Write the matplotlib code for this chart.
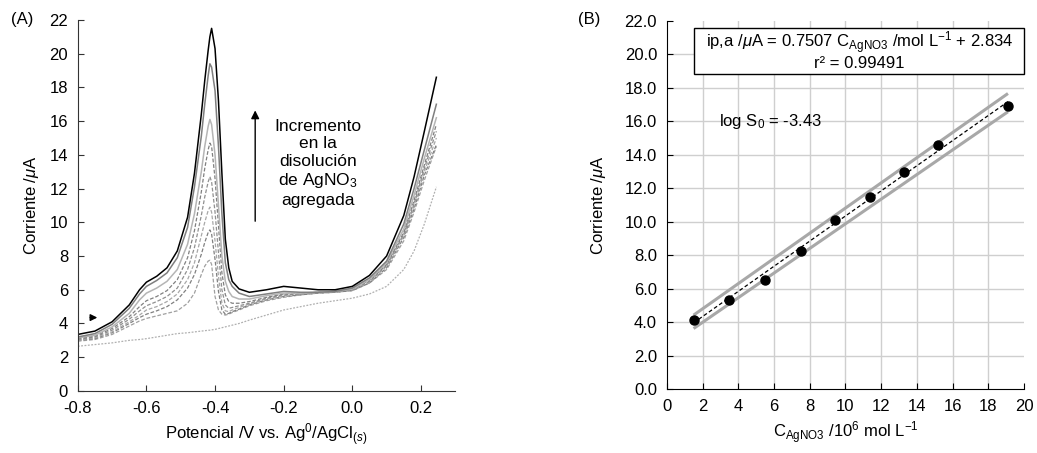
import numpy as np
import matplotlib
matplotlib.use("Agg")
import matplotlib.pyplot as plt
from matplotlib.patches import Rectangle

plt.rcParams['font.family'] = ['Liberation Sans', 'DejaVu Sans']
plt.rcParams['mathtext.fontset'] = 'custom'
plt.rcParams['mathtext.rm'] = 'Liberation Sans'
plt.rcParams['mathtext.it'] = 'Liberation Sans:italic'
plt.rcParams['mathtext.bf'] = 'Liberation Sans:bold'
plt.rcParams['axes.unicode_minus'] = False

# --- (A) voltamogramas: potencial [V] y corriente [uA]
E = [-0.80, -0.75, -0.70, -0.65, -0.62, -0.60, -0.57, -0.54, -0.51, -0.48,
     -0.46, -0.44, -0.43, -0.42, -0.415, -0.41, -0.40, -0.39, -0.38, -0.37,
     -0.36, -0.35, -0.33, -0.30, -0.25, -0.20, -0.15, -0.10, -0.05, 0.00,
     0.05, 0.10, 0.15, 0.18, 0.21, 0.245]

i1 = [3.35, 3.55, 4.1, 5.1, 6.0, 6.45, 6.8, 7.3, 8.3, 10.3,
      12.9, 16.4, 18.4, 20.2, 21.0, 21.5, 20.3, 17.2, 12.9, 9.0,
      7.3, 6.5, 6.05, 5.85, 6.0, 6.2, 6.1, 6.0, 6.0, 6.2,
      6.85, 8.0, 10.4, 12.7, 15.4, 18.6]
i2 = [3.2, 3.4, 3.95, 4.9, 5.75, 6.2, 6.55, 7.0, 7.9, 9.7,
      12.1, 15.1, 17.0, 18.7, 19.4, 19.2, 17.8, 14.5, 10.5, 7.6,
      6.6, 6.2, 5.8, 5.6, 5.75, 5.9, 5.85, 5.85, 5.9, 6.1,
      6.7, 7.7, 9.9, 12.0, 14.3, 17.0]
i3 = [3.15, 3.3, 3.8, 4.6, 5.4, 5.8, 6.1, 6.5, 7.2, 8.7,
      10.5, 13.0, 14.5, 15.7, 16.1, 15.8, 14.0, 11.0, 8.0, 6.5,
      5.9, 5.6, 5.45, 5.45, 5.65, 5.8, 5.8, 5.85, 5.9, 6.05,
      6.6, 7.6, 9.6, 11.6, 13.8, 16.2]
i4 = [3.1, 3.25, 3.7, 4.4, 5.0, 5.35, 5.6, 5.95, 6.6, 7.9,
      9.5, 11.8, 13.2, 14.3, 14.7, 14.5, 12.6, 9.8, 7.0, 5.7,
      5.3, 5.2, 5.2, 5.3, 5.55, 5.75, 5.8, 5.85, 5.9, 6.05,
      6.55, 7.5, 9.4, 11.3, 13.4, 15.8]
i5 = [3.05, 3.2, 3.6, 4.25, 4.75, 5.05, 5.3, 5.6, 6.1, 7.2,
      8.5, 10.4, 11.5, 12.4, 12.7, 12.4, 10.6, 8.2, 6.0, 5.1,
      4.9, 4.95, 5.05, 5.2, 5.5, 5.7, 5.75, 5.85, 5.9, 6.0,
      6.5, 7.45, 9.3, 11.1, 13.2, 15.4]
i6 = [3.0, 3.15, 3.5, 4.1, 4.5, 4.8, 5.0, 5.3, 5.75, 6.6,
      7.6, 9.2, 10.0, 10.7, 10.9, 10.6, 8.9, 6.8, 5.2, 4.75,
      4.7, 4.8, 4.95, 5.15, 5.45, 5.65, 5.75, 5.85, 5.9, 6.0,
      6.45, 7.4, 9.2, 11.0, 13.0, 15.0]
i7 = [3.0, 3.1, 3.45, 4.0, 4.35, 4.55, 4.75, 5.0, 5.4, 6.1,
      6.9, 8.1, 8.8, 9.4, 9.55, 9.3, 7.8, 5.9, 4.8, 4.55,
      4.6, 4.7, 4.85, 5.1, 5.4, 5.6, 5.7, 5.8, 5.85, 5.95,
      6.4, 7.3, 9.1, 10.8, 12.8, 14.6]
i8 = [2.95, 3.05, 3.35, 3.85, 4.15, 4.3, 4.45, 4.6, 4.75, 5.2,
      5.8, 6.9, 7.4, 7.7, 7.75, 7.5, 5.6, 4.8, 4.55, 4.5,
      4.55, 4.65, 4.8, 5.05, 5.35, 5.55, 5.7, 5.8, 5.85, 5.95,
      6.4, 7.2, 8.9, 10.6, 12.5, 14.5]
i_blanco = [2.65, 2.75, 2.85, 3.0, 3.05, 3.1, 3.2, 3.3, 3.4, 3.45,
            3.5, 3.55, 3.57, 3.6, 3.6, 3.62, 3.65, 3.7, 3.75, 3.8,
            3.85, 3.9, 4.0, 4.2, 4.5, 4.8, 5.0, 5.2, 5.35, 5.5,
            5.75, 6.2, 7.2, 8.3, 9.9, 12.1]

# --- (B) curva de calibración
C = [1.5, 3.5, 5.5, 7.5, 9.4, 11.4, 13.3, 15.2, 19.1]
ip = [4.1, 5.3, 6.5, 8.25, 10.1, 11.5, 13.0, 14.6, 16.9]
pendiente = 0.7507
intercepto = 2.834
banda_sup = [4.42, 17.66]
banda_inf = [3.62, 16.57]

fs = 12

fig = plt.figure(figsize=(10.37, 4.53), dpi=100)
axA = fig.add_axes([0.075, 0.137, 0.364, 0.819])
axB = fig.add_axes([0.643, 0.141, 0.3445, 0.813])

# curvas (de la más baja a la más alta)
estilos = [
    (i_blanco, '#b0b0b0', (0, (1.5, 1.2)), 0.9),
    (i8, '#a0a0a0', (0, (3, 1.5)), 0.9),
    (i7, '#808080', (0, (3, 1.5)), 0.9),
    (i6, '#a8a8a8', (0, (3, 1.5)), 0.9),
    (i5, '#909090', (0, (3, 1.5)), 0.9),
    (i4, '#808080', (0, (3, 1.5)), 0.9),
    (i3, '#b5b5b5', '-', 1.1),
    (i2, '#7f7f7f', '-', 1.1),
    (i1, 'black', '-', 1.1),
]
for datos, col, ls, lw in estilos:
    axA.plot(E, datos, color=col, linestyle=ls, lw=lw)

axA.set_xlim(-0.8, 0.3)
axA.set_ylim(0, 22)
axA.set_xticks(np.arange(-0.8, 0.21, 0.2))
axA.set_xticklabels(['-0.8', '-0.6', '-0.4', '-0.2', '0.0', '0.2'])
axA.set_yticks(np.arange(0, 23, 2))
axA.spines['top'].set_visible(False)
axA.spines['right'].set_visible(False)
for s in ['left', 'bottom']:
    axA.spines[s].set_color('#333333')
axA.tick_params(direction='in', length=4, labelsize=fs, color='#333333', pad=7)
axA.set_xlabel('Potencial /V vs. Ag$^{0}$/AgCl$_{(s)}$', fontsize=fs, labelpad=4)
axA.set_ylabel(r'Corriente /$\mu$A', fontsize=fs, labelpad=6)

axA.annotate('', xy=(-0.283, 16.8), xytext=(-0.283, 9.9),
             arrowprops=dict(arrowstyle='-|>', color='black', lw=1, mutation_scale=12))
axA.annotate('', xy=(-0.735, 4.35), xytext=(-0.772, 4.35),
             arrowprops=dict(arrowstyle='-|>', color='black', lw=1, mutation_scale=10))
axA.text(-0.10, 13.5, 'Incremento\nen la\ndisolución\nde AgNO$_3$\nagregada',
         ha='center', va='center', fontsize=12.5, linespacing=1.2)

fig.text(0.021, 0.957, '(A)', ha='center', va='center', fontsize=fs)
fig.text(0.568, 0.957, '(B)', ha='center', va='center', fontsize=fs)

# (B)
axB.set_xlim(0, 20)
axB.set_ylim(0, 22)
axB.set_xticks(np.arange(0, 21, 2))
axB.set_yticks(np.arange(0, 23, 2))
axB.set_yticklabels(['%.1f' % v for v in np.arange(0, 23, 2)])
axB.grid(True, color='#cfcfcf', lw=1)
axB.set_axisbelow(True)
xg = axB.get_xgridlines()
xg[-1].set_visible(False)
xg[0].set_visible(False)
yg = axB.get_ygridlines()
yg[-1].set_visible(False)
yg[0].set_visible(False)
axB.spines['top'].set_visible(False)
axB.spines['right'].set_visible(False)
axB.tick_params(direction='in', length=4, labelsize=fs, pad=7)

xs = np.array([C[0], C[-1]])
axB.plot(xs, banda_sup, color='#a8a8a8', lw=2.2, solid_capstyle='butt')
axB.plot(xs, banda_inf, color='#a8a8a8', lw=2.2, solid_capstyle='butt')
axB.plot(xs, pendiente * xs + intercepto, color='black', lw=0.9, linestyle=(0, (3, 2)))
axB.plot(C, ip, 'o', color='black', ms=6.5)

axB.add_patch(Rectangle((1.55, 18.85), 18.45, 2.75, fill=True, fc='white',
                        ec='black', lw=1, clip_on=False, zorder=3))
axB.text(10.8, 20.25, 'ip,a /$\\mu$A = 0.7507 C$_{\\mathrm{AgNO3}}$ /mol L$^{-1}$ + 2.834\n'
         'r² = 0.99491', ha='center', va='center', fontsize=fs, zorder=4,
         linespacing=1.05)
axB.text(2.9, 16.0, 'log S$_0$ = -3.43', ha='left', va='center', fontsize=fs)

axB.set_xlabel('C$_{\\mathrm{AgNO3}}$ /10$^6$ mol L$^{-1}$', fontsize=fs, labelpad=4)
axB.set_ylabel(r'Corriente /$\mu$A', fontsize=fs, labelpad=12)

fig.savefig('out.png', dpi=100)
